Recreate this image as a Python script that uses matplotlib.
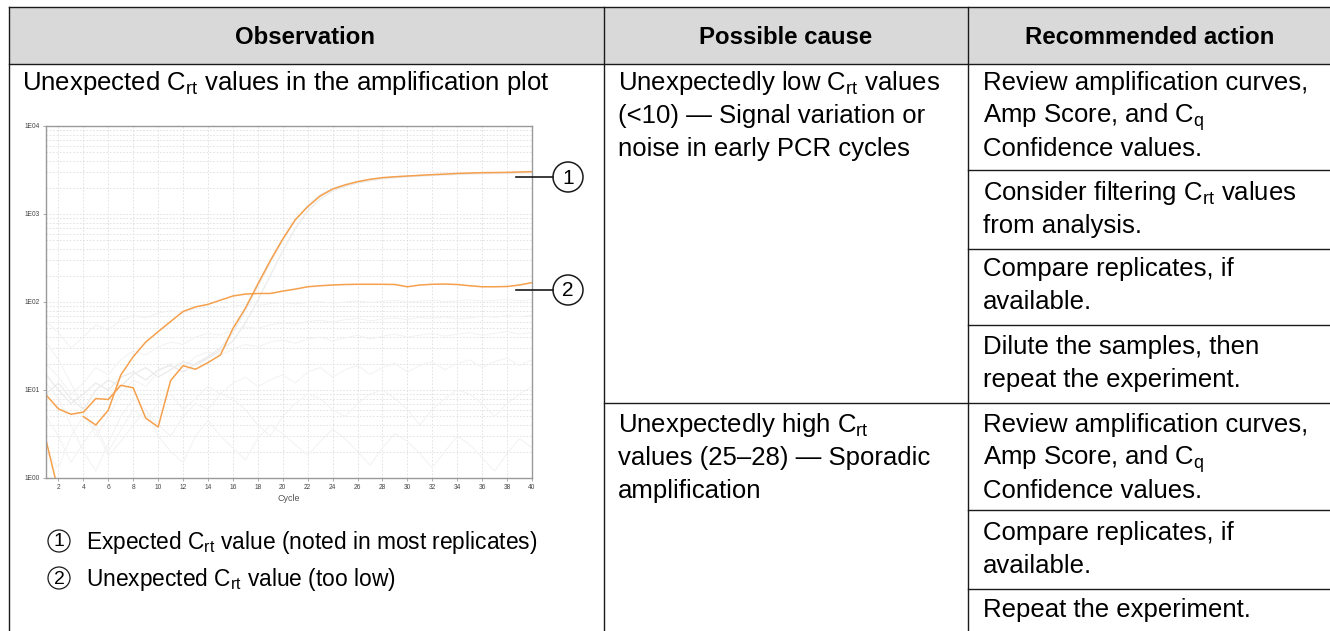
import matplotlib.pyplot as plt
import numpy as np
from matplotlib.patches import Circle, Rectangle
from matplotlib.ticker import LogLocator, NullFormatter

plt.rcParams['font.family'] = ['Liberation Sans', 'DejaVu Sans']

# amplification plot data
cycles = np.arange(1, 41)
expected_crt = [8.8, 6.1, 5.3, 5.6, 8.0, 7.8, 11.3, 10.6, 4.8, 3.8,
                12.8, 18.9, 17.2, 20.5, 25, 50, 85, 160, 295, 520,
                860, 1210, 1600, 1920, 2140, 2330, 2480, 2590, 2650, 2700,
                2750, 2800, 2840, 2890, 2920, 2950, 2960, 2970, 3000, 3030]
unexpected_crt = [2.7, 0.7, np.nan, 5.0, 4.0, 5.9, 14.8, 23.9, 35, 46,
                  60, 78, 88, 94, 105, 117, 123, 125, 125, 133,
                  140, 149, 153, 156, 158, 159, 159, 159, 158, 149,
                  156, 159, 160, 158, 153, 149, 149, 150, 156, 166]

# faint replicate traces in the background
rep_a = [15, 10, 7, 9, 12, 10, 14, 16, 13, 17, 19, 16, 20, 24, 30, 45, 80, 150, 280, 500,
         840, 1250, 1650, 1950, 2150, 2330, 2460, 2560, 2630, 2690, 2740, 2780, 2820, 2850,
         2880, 2910, 2930, 2950, 2970, 2990]
rep_b = [9, 12, 8, 6, 10, 13, 11, 15, 18, 14, 17, 21, 19, 23, 28, 36, 58, 105, 200, 380,
         690, 1080, 1480, 1820, 2060, 2250, 2390, 2500, 2580, 2640, 2690, 2740, 2780, 2810,
         2840, 2870, 2890, 2910, 2930, 2950]
noise_1 = [20, 14, 9, 12, 18, 15, 22, 28, 25, 31, 35, 33, 40, 44, 42, 48, 52, 50, 55, 58,
           56, 60, 62, 59, 63, 65, 61, 64, 66, 63, 67, 65, 68, 64, 66, 69, 67, 70, 68, 71]
noise_2 = [35, 22, 12, 6, 3, 5, 9, 13, 11, 16, 20, 18, 24, 27, 25, 29, 33, 31, 35, 37,
           34, 38, 40, 36, 39, 42, 38, 41, 43, 40, 42, 44, 41, 43, 45, 42, 44, 46, 43, 45]
noise_3 = [5, 3, 1.5, 2.5, 4, 2, 3.5, 6, 4.5, 7, 9, 6, 8, 11, 9, 12, 14, 11, 13, 15,
           12, 16, 18, 14, 17, 19, 15, 18, 20, 16, 19, 21, 17, 20, 22, 18, 21, 23, 19, 22]
noise_4 = [12, 8, 4, 2, 1.2, 2.5, 5, 8, 6, 4, 3, 5, 7, 6, 9, 8, 6, 4, 3, 5,
           7, 9, 8, 6, 5, 7, 9, 10, 8, 6, 4, 6, 8, 10, 9, 7, 5, 7, 9, 11]
noise_5 = [60, 45, 30, 40, 55, 48, 62, 70, 66, 75, 80, 76, 84, 88, 85, 90, 94, 91, 96, 98,
           95, 99, 101, 97, 100, 103, 99, 102, 104, 100, 102, 105, 101, 103, 106, 102, 104, 107, 103, 106]
noise_6 = [2, 1.3, 3, 5, 3.5, 1.8, 2.6, 4, 6, 3, 2, 1.5, 3, 4.5, 3, 2.2, 1.6, 2.8, 4, 3.2,
           2.4, 1.8, 2.6, 3.6, 2.8, 2, 1.4, 2.2, 3.2, 2.6, 1.9, 1.3, 2, 3, 2.4, 1.7, 1.2, 1.9, 2.8, 2.2]
replicates = [rep_a, rep_b]
noise = [noise_1, noise_2, noise_3, noise_4, noise_5, noise_6]

y_ticks = [1, 10, 100, 1000, 10000]
y_labels = ['1E00', '1E01', '1E02', '1E03', '1E04']
x_ticks = list(range(2, 41, 2))

# table text
headers = ['Observation', 'Possible cause', 'Recommended action']
obs_text = r'Unexpected $\mathregular{C_{rt}}$ values in the amplification plot'
legend_text = [r'Expected $\mathregular{C_{rt}}$ value (noted in most replicates)',
               r'Unexpected $\mathregular{C_{rt}}$ value (too low)']
cause_lines = [
    [r'Unexpectedly low $\mathregular{C_{rt}}$ values', '(<10) — Signal variation or', 'noise in early PCR cycles'],
    [r'Unexpectedly high $\mathregular{C_{rt}}$', 'values (25–28) — Sporadic', 'amplification'],
]
action_lines = [
    ['Review amplification curves,', r'Amp Score, and $\mathregular{C_q}$', 'Confidence values.'],
    [r'Consider filtering $\mathregular{C_{rt}}$ values', 'from analysis.'],
    ['Compare replicates, if', 'available.'],
    ['Dilute the samples, then', 'repeat the experiment.'],
    ['Review amplification curves,', r'Amp Score, and $\mathregular{C_q}$', 'Confidence values.'],
    ['Compare replicates, if', 'available.'],
    ['Repeat the experiment.'],
]

W, H = 1330, 631
fig = plt.figure(figsize=(W / 100, H / 100), dpi=100)

# ---- table drawn in pixel coordinates
tab = fig.add_axes([0, 0, 1, 1])
tab.set_xlim(0, W)
tab.set_ylim(H, 0)
tab.axis('off')

tab.add_patch(Rectangle((9, 7), W - 9, 57, facecolor='#d9d9d9', edgecolor='none'))
lk = dict(color='#1a1a1a', lw=1.0)
tab.plot([9, W], [7, 7], **lk)
tab.plot([9, W], [64, 64], **lk)
tab.plot([9, 9], [7, H], **lk)
tab.plot([604, 604], [7, H], **lk)
tab.plot([968, 968], [7, H], **lk)
for yy in [170, 249, 325, 510, 589]:
    tab.plot([968, W], [yy, yy], **lk)
tab.plot([604, W], [403, 403], **lk)

for hx, h in zip([305, 786, 1150], headers):
    tab.text(hx, 44, h, ha='center', va='baseline', fontsize=17.3, fontweight='bold')

fs = 18.5
tab.text(22, 90, obs_text, va='baseline', fontsize=fs)

cause_y = [90, 432]
for y0, lines in zip(cause_y, cause_lines):
    for i, s in enumerate(lines):
        tab.text(618, y0 + i * 33, s, va='baseline', fontsize=fs)

action_y = [90, 200, 276, 354, 432, 540, 617]
for y0, lines in zip(action_y, action_lines):
    for i, s in enumerate(lines):
        tab.text(983, y0 + i * 33, s, va='baseline', fontsize=fs)

# legend under the plot
for k, (cy, s) in enumerate(zip([541, 578], legend_text)):
    tab.add_patch(Circle((59, cy), 11, facecolor='none', edgecolor='#1a1a1a', lw=0.9))
    tab.text(59, cy + 1, str(k + 1), ha='center', va='center', fontsize=14)
    tab.text(86, cy + 8, s, va='baseline', fontsize=16.4)

# ---- amplification plot
ax = fig.add_axes([46 / W, (H - 478) / H, 486 / W, 352 / H])
ax.set_facecolor('white')
for tr in noise:
    ax.plot(cycles, tr, color='#f2f2f2', lw=0.7)
for tr in replicates:
    ax.plot(cycles, tr, color='#ebebeb', lw=0.9)
ax.plot(cycles, expected_crt, color='#f5a04c', lw=1.1)
ax.plot(cycles, unexpected_crt, color='#f5a04c', lw=1.1)

ax.set_yscale('log')
ax.set_ylim(1, 10000)
ax.set_xlim(1, 40)
ax.set_yticks(y_ticks, y_labels)
ax.yaxis.set_minor_locator(LogLocator(base=10, subs=range(2, 10)))
ax.yaxis.set_minor_formatter(NullFormatter())
ax.set_xticks(x_ticks)
ax.grid(True, which='both', ls=(0, (2, 2)), color='#dedede', lw=0.6)
ax.tick_params(axis='both', which='major', labelsize=4.8, length=2.5, width=0.5,
               color='#888888', labelcolor='#444444', pad=2)
ax.tick_params(axis='y', which='minor', length=0)
ax.set_xlabel('Cycle', fontsize=6.5, color='#555555', labelpad=2)
for sp in ax.spines.values():
    sp.set_color('#999999')
    sp.set_linewidth(1.0)

# ---- callouts on top
ov = fig.add_axes([0, 0, 1, 1])
ov.set_xlim(0, W)
ov.set_ylim(H, 0)
ov.axis('off')
for k, cy in enumerate([177, 290]):
    ov.plot([516, 553], [cy, cy], color='#1a1a1a', lw=1.2)
    ov.add_patch(Circle((568, cy), 15, facecolor='white', edgecolor='#1a1a1a', lw=1.1))
    ov.text(568, cy + 1, str(k + 1), ha='center', va='center', fontsize=15)

fig.savefig('out.png', dpi=100)
